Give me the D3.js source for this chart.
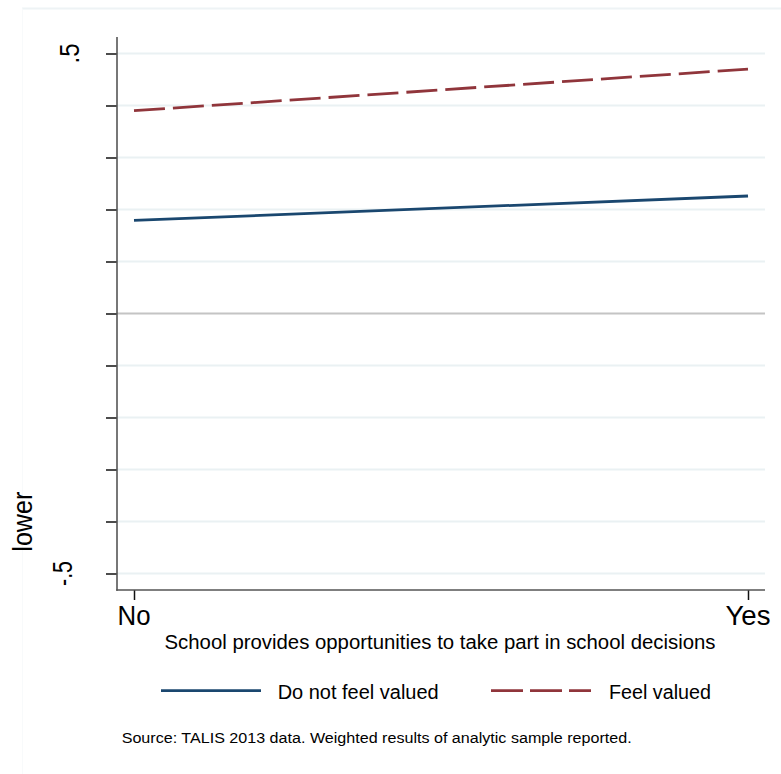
<!DOCTYPE html>
<html>
<head>
<meta charset="utf-8">
<script src="https://cdn.jsdelivr.net/npm/d3@7"></script>
<style>
  html, body { margin: 0; padding: 0; background: #fff; }
  svg { display: block; }
  text { font-family: "Liberation Sans", Arial, sans-serif; fill: #000; }
</style>
</head>
<body>
<script>
// Categories on the x axis
const categories = ["No", "Yes"];
// Predicted values for each group
const notValued = [0.179, 0.226];
const valued = [0.39, 0.47];
// Series names for the legend
const seriesNames = ["Do not feel valued", "Feel valued"];
// Y tick values and which ones carry a label
const yTicks = [-0.5, -0.4, -0.3, -0.2, -0.1, 0, 0.1, 0.2, 0.3, 0.4, 0.5];
const yTickLabels = { "-0.5": "-.5", "0.5": ".5" };

const W = 781, H = 774;
const svg = d3.select("body").append("svg").attr("width", W).attr("height", H);

// faint outer graph region edges
svg.append("line").attr("x1", 22).attr("x2", W).attr("y1", 8.5).attr("y2", 8.5)
  .attr("stroke", "#eef3f5").attr("stroke-width", 2);
svg.append("line").attr("x1", 22.5).attr("x2", 22.5).attr("y1", 8.5).attr("y2", H)
  .attr("stroke", "#f8fafb").attr("stroke-width", 1);

const plotLeft = 117, plotRight = 765, plotTop = 37, plotBottom = 590;

const x = d3.scalePoint().domain(categories).range([134, 748]);
const y = d3.scaleLinear().domain([-0.5, 0.5]).range([573.5, 53.5]);

// horizontal gridlines
svg.append("g").selectAll("line").data(yTicks).join("line")
  .attr("x1", plotLeft).attr("x2", plotRight)
  .attr("y1", d => y(d)).attr("y2", d => y(d))
  .attr("stroke", d => Math.abs(d) < 1e-9 ? "#c4c4c4" : "#eaf1f3")
  .attr("stroke-width", 2);

// y axis
const yAxis = d3.axisLeft(y).tickValues(yTicks).tickSize(11).tickFormat("");
const gy = svg.append("g").attr("transform", `translate(${plotLeft},0)`).call(yAxis);
gy.select(".domain").remove();
gy.selectAll(".tick line").attr("stroke", "#111").attr("stroke-width", 1.5);
svg.append("line").attr("x1", plotLeft).attr("x2", plotLeft)
  .attr("y1", plotTop).attr("y2", plotBottom + 0.75)
  .attr("stroke", "#555").attr("stroke-width", 1.6);

// y tick labels (rotated)
const yLabelPos = { "0.5": 79, "-0.5": 71.5 };
Object.keys(yTickLabels).forEach(k => {
  const v = +k;
  const lbl = yTickLabels[k];
  svg.append("text")
    .attr("transform", `translate(${yLabelPos[k]},${y(v)}) rotate(-90)`)
    .attr("text-anchor", "middle")
    .attr("font-size", 27)
    .attr("textLength", lbl.length === 2 ? 20 : 25)
    .attr("lengthAdjust", "spacingAndGlyphs")
    .text(lbl);
});

// y axis title
svg.append("text")
  .attr("transform", "translate(31.5,521.7) rotate(-90)")
  .attr("text-anchor", "middle")
  .attr("font-size", 28)
  .attr("textLength", 60)
  .attr("lengthAdjust", "spacingAndGlyphs")
  .text("lower");

// x axis
const xAxis = d3.axisBottom(x).tickSize(10).tickFormat("");
const gx = svg.append("g").attr("transform", `translate(0,${plotBottom})`).call(xAxis);
gx.select(".domain").remove();
gx.selectAll(".tick line").attr("stroke", "#111").attr("stroke-width", 1.5);
svg.append("line").attr("x1", plotLeft - 0.8).attr("x2", plotRight)
  .attr("y1", plotBottom).attr("y2", plotBottom)
  .attr("stroke", "#555").attr("stroke-width", 1.6);

// x tick labels
const xLabelW = { "No": 33, "Yes": 45 };
svg.append("g").selectAll("text").data(categories).join("text")
  .attr("x", d => x(d)).attr("y", 625)
  .attr("text-anchor", "middle")
  .attr("font-size", 28)
  .attr("textLength", d => xLabelW[d])
  .attr("lengthAdjust", "spacingAndGlyphs")
  .text(d => d);

// x axis title
svg.append("text")
  .attr("x", 164.5).attr("y", 648.5)
  .attr("font-size", 20)
  .attr("textLength", 551)
  .attr("lengthAdjust", "spacingAndGlyphs")
  .text("School provides opportunities to take part in school decisions");

// series lines
const line = d3.line().x((d, i) => x(categories[i])).y(d => y(d));
const series = [
  { values: notValued, color: "#1a476f", dash: null },
  { values: valued, color: "#90353b", dash: "31,8" }
];
series.forEach(s => {
  svg.append("path").datum(s.values)
    .attr("d", line)
    .attr("fill", "none")
    .attr("stroke", s.color)
    .attr("stroke-width", 2.8)
    .attr("stroke-dasharray", s.dash);
});

// legend
const legendItems = [
  { name: seriesNames[0], color: "#1a476f", dash: null, x1: 161, x2: 261, tx: 277.7, tw: 161 },
  { name: seriesNames[1], color: "#90353b", dash: "32,7", x1: 491, x2: 591, tx: 609, tw: 102 }
];
legendItems.forEach(it => {
  svg.append("line").attr("x1", it.x1).attr("x2", it.x2)
    .attr("y1", 690.7).attr("y2", 690.7)
    .attr("stroke", it.color).attr("stroke-width", 2.8)
    .attr("stroke-dasharray", it.dash);
  svg.append("text").attr("x", it.tx).attr("y", 699.3)
    .attr("font-size", 20)
    .attr("textLength", it.tw)
    .attr("lengthAdjust", "spacingAndGlyphs")
    .text(it.name);
});

// source note
svg.append("text")
  .attr("x", 121.7).attr("y", 742.7)
  .attr("font-size", 15.3)
  .attr("textLength", 510)
  .attr("lengthAdjust", "spacingAndGlyphs")
  .text("Source: TALIS 2013 data. Weighted results of analytic sample reported.");
</script>
</body>
</html>
